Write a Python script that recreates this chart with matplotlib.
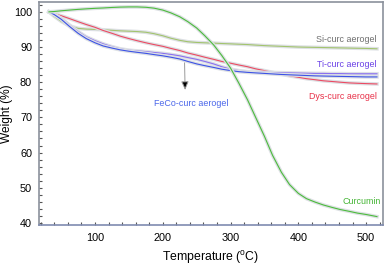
import matplotlib
matplotlib.use("Agg")
import matplotlib.pyplot as plt
import matplotlib.patheffects as pe
from matplotlib.ticker import MultipleLocator

plt.rcParams["font.family"] = ["Liberation Sans", "DejaVu Sans"]
plt.rcParams["mathtext.default"] = "regular"

temperature = [32, 40, 50, 62, 75, 87, 100, 112, 125, 137, 150, 162, 175, 187, 200,
               212, 225, 237, 250, 262, 275, 287, 300, 312, 325, 337, 350, 362, 375,
               387, 400, 412, 425, 437, 450, 462, 475, 487, 500, 516]

curcumin = [100.0, 100.1, 100.3, 100.5, 100.7, 100.85, 101.0, 101.1, 101.25, 101.35,
            101.4, 101.4, 101.3, 101.05, 100.5, 99.7, 98.6, 97.2, 95.4, 93.2,
            90.6, 87.6, 84.0, 79.8, 75.0, 70.0, 64.6, 59.2, 54.4, 50.9,
            48.4, 46.9, 45.9, 45.1, 44.4, 43.8, 43.3, 42.8, 42.4, 41.8]
si_curc = [100.0, 98.7, 97.3, 96.0, 95.3, 95.1, 95.0, 94.9, 94.75, 94.6,
           94.5, 94.4, 94.2, 93.8, 93.2, 92.5, 91.9, 91.5, 91.3, 91.2,
           91.1, 91.0, 90.9, 90.8, 90.7, 90.55, 90.4, 90.3, 90.2, 90.1,
           90.0, 89.95, 89.9, 89.85, 89.8, 89.75, 89.7, 89.65, 89.6, 89.5]
dys_curc = [100.0, 99.5, 98.9, 98.1, 97.2, 96.4, 95.6, 94.7, 93.9, 93.1,
            92.4, 91.8, 91.2, 90.7, 90.2, 89.6, 89.0, 88.3, 87.7, 87.1,
            86.5, 85.9, 85.4, 84.9, 84.4, 83.8, 83.3, 82.8, 82.3, 81.8,
            81.4, 81.0, 80.7, 80.4, 80.2, 80.0, 79.8, 79.7, 79.6, 79.5]
ti_curc = [100.0, 99.3, 98.2, 96.3, 94.4, 92.9, 91.8, 90.9, 90.1, 89.5,
           89.1, 88.9, 88.7, 88.45, 88.2, 87.9, 87.5, 87.0, 86.5, 85.9,
           85.2, 84.4, 83.7, 83.3, 83.0, 82.85, 82.8, 82.75, 82.7, 82.65,
           82.6, 82.55, 82.5, 82.5, 82.45, 82.45, 82.4, 82.4, 82.4, 82.4]
feco_curc = [100.0, 99.2, 97.9, 95.9, 93.9, 92.4, 91.2, 90.3, 89.7, 89.2,
             88.8, 88.5, 88.2, 87.85, 87.5, 87.1, 86.6, 85.9, 85.2, 84.7,
             84.2, 83.7, 83.3, 83.0, 82.8, 82.65, 82.5, 82.35, 82.2, 82.1,
             82.0, 81.9, 81.8, 81.75, 81.7, 81.65, 81.6, 81.55, 81.5, 81.5]

series = [
    (si_curc, "#a3c46e"),
    (dys_curc, "#ec4a62"),
    (ti_curc, "#8a6ff0"),
    (feco_curc, "#3c52e6"),
    (curcumin, "#4cbc3c"),
]

fig = plt.figure(figsize=(3.87, 2.66), dpi=100)
ax = fig.add_axes([0.1008, 0.154, 0.889, 0.8385])

shadow = [pe.Stroke(linewidth=2.6, foreground="#dde0e4"), pe.Normal()]
for values, col in series:
    ax.plot(temperature, values, color=col, linewidth=0.8, path_effects=shadow)

ax.set_xlim(17.3, 525)
ax.set_ylim(39.4, 102.8)

ax.xaxis.set_minor_locator(MultipleLocator(20))
ax.yaxis.set_major_locator(MultipleLocator(10))
ax.yaxis.set_minor_locator(MultipleLocator(2))
ax.set_xticks([100, 200, 300, 400, 500])

for sp in ax.spines.values():
    sp.set_color("#8b919c")
    sp.set_linewidth(1.2)
ax.spines["bottom"].set_color("#7f8bb0")

ax.tick_params(which="both", direction="in", length=2, width=0.8, color="#555555",
               labelsize=7.8, pad=5)
ax.tick_params(axis="x", pad=6)

ax.set_xlabel("Temperature ($^{o}$C)", fontsize=8.8, labelpad=4)
ax.set_ylabel("Weight (%)", fontsize=8.6)
ax.yaxis.set_label_coords(-0.077, 0.5)

ax.text(516, 92.0, "Si-curc aerogel", color="#6e6e6e", fontsize=6.4, ha="right", va="center")
ax.text(516, 84.9, "Ti-curc aerogel", color="#6a40e6", fontsize=6.4, ha="right", va="center")
ax.text(516, 75.9, "Dys-curc aerogel", color="#e83048", fontsize=6.4, ha="right", va="center")
ax.text(522, 46.0, "Curcumin", color="#44b534", fontsize=6.4, ha="right", va="center")
ax.text(187, 73.9, "FeCo-curc aerogel", color="#4a66ea", fontsize=6.4, ha="left", va="center")
ax.annotate("", xy=(233, 77.0), xytext=(232, 86.3),
            arrowprops=dict(arrowstyle="-|>,head_length=0.5,head_width=0.22",
                            fc="black", ec="#9a9a9a", lw=0.7))

fig.savefig("out.png", dpi=100)
